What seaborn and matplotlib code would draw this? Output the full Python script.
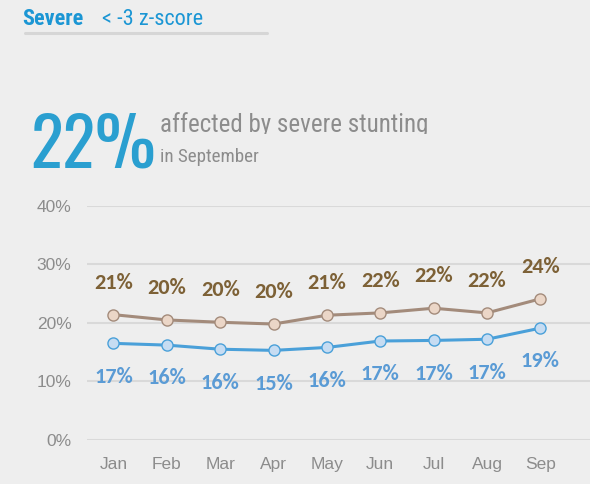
import matplotlib
matplotlib.use('Agg')
import matplotlib.pyplot as plt
from matplotlib.transforms import Bbox, TransformedBbox
import seaborn as sns
import pandas as pd

# ─── Data ─────────────────────────────────────────────────────────────────────
months       = ["Jan", "Feb", "Mar", "Apr", "May", "Jun", "Jul", "Aug", "Sep"]
severe_all   = [21.4, 20.5, 20.1, 19.8, 21.3, 21.7, 22.5, 21.7, 24.1]
severe_child = [16.5, 16.2, 15.5, 15.3, 15.8, 16.9, 17.0, 17.2, 19.1]
labels_all   = ["21%", "20%", "20%", "20%", "21%", "22%", "22%", "22%", "24%"]
labels_child = ["17%", "16%", "16%", "15%", "16%", "17%", "17%", "17%", "19%"]
yticks       = [0, 10, 20, 30, 40]

# ─── Palette ──────────────────────────────────────────────────────────────────
BG        = "#eeeeee"
HEAD_BLUE = "#1b96d4"
BIG_BLUE  = "#2a9fd0"
GREY_TXT  = "#8c8c8c"
GRID      = "#d9d9d9"
BRN_LINE  = "#a38b7b"
BRN_FILL  = "#ebd6c7"
BRN_TXT   = "#7d6136"
BLU_LINE  = "#4aa0d9"
BLU_FILL  = "#c6dcf2"
BLU_TXT   = "#5a9bd5"

NARROW = ["Roboto Condensed", "Archivo Narrow", "Liberation Sans", "DejaVu Sans"]
COND   = ["Oswald", "Roboto Condensed", "Liberation Sans", "DejaVu Sans"]
LABEL  = ["Carlito", "Lato", "DejaVu Sans"]

sns.set_theme(style="white")
plt.rcParams["font.family"] = ["Liberation Sans", "DejaVu Sans"]

df = pd.DataFrame({"x": range(len(months)), "all": severe_all, "child": severe_child})

fig = plt.figure(figsize=(5.9, 4.84), dpi=100, facecolor=BG)
ax = fig.add_axes([0.147, 0.0909, 0.853, 0.4841])
ax.set_facecolor(BG)

for col, lc, fc in [("all", BRN_LINE, BRN_FILL), ("child", BLU_LINE, BLU_FILL)]:
    sns.lineplot(data=df, x="x", y=col, ax=ax, color=lc, linewidth=2.2,
                 marker="o", markersize=8, markerfacecolor=fc,
                 markeredgecolor=lc, markeredgewidth=1.0, zorder=3)

for i in range(len(months)):
    ax.annotate(labels_all[i], (i, severe_all[i]), xytext=(0, 23), textcoords="offset points",
                ha="center", va="center", fontsize=16, fontweight="bold",
                color=BRN_TXT, family=LABEL)
    ax.annotate(labels_child[i], (i, severe_child[i]), xytext=(0, -24), textcoords="offset points",
                ha="center", va="center", fontsize=16, fontweight="bold",
                color=BLU_TXT, family=LABEL)

ax.set_xlim(-0.5, 8.93)
ax.set_ylim(0, 40)
ax.set_yticks(yticks)
ax.set_yticklabels([f"{v}%" for v in yticks])
ax.set_xticks(range(len(months)))
ax.set_xticklabels(months)
ax.yaxis.grid(True, color=GRID, linewidth=1.5, zorder=0)
ax.set_axisbelow(True)
ax.tick_params(axis="both", length=0, labelsize=12.5, labelcolor=GREY_TXT)
ax.tick_params(axis="y", pad=11)
ax.tick_params(axis="x", pad=12)
ax.set_xlabel("")
ax.set_ylabel("")
for s in ax.spines.values():
    s.set_visible(False)

# ─── Header ───────────────────────────────────────────────────────────────────
fig.text(22 / 590, 1 - 25 / 484, "Severe", fontsize=16, fontweight="bold",
         color=HEAD_BLUE, family=NARROW, va="baseline")
fig.text(102 / 590, 1 - 25 / 484, "< -3 z-score", fontsize=16,
         color=HEAD_BLUE, family=NARROW, va="baseline")
fig.add_artist(plt.Line2D([25 / 590, 267 / 590], [1 - 33 / 484, 1 - 33 / 484],
                          color="#d6d6d6", linewidth=2.2))

fig.text(30 / 590, 1 - 167 / 484, "22%", fontsize=49, fontweight="bold",
         color=BIG_BLUE, family=COND, va="baseline")
sub = fig.text(160 / 590, 1 - 132 / 484, "affected by severe stunting", fontsize=18,
               color=GREY_TXT, family=NARROW, va="baseline")
# the original headline is cut off just under its baseline
sub.set_clip_box(TransformedBbox(Bbox([[0, 1 - 133.5 / 484], [1, 1]]), fig.transFigure))
sub.set_clip_on(True)
fig.text(160 / 590, 1 - 162 / 484, "in September", fontsize=13.7,
         color=GREY_TXT, family=NARROW, va="baseline")

fig.savefig("out.png", dpi=100, facecolor=BG)
